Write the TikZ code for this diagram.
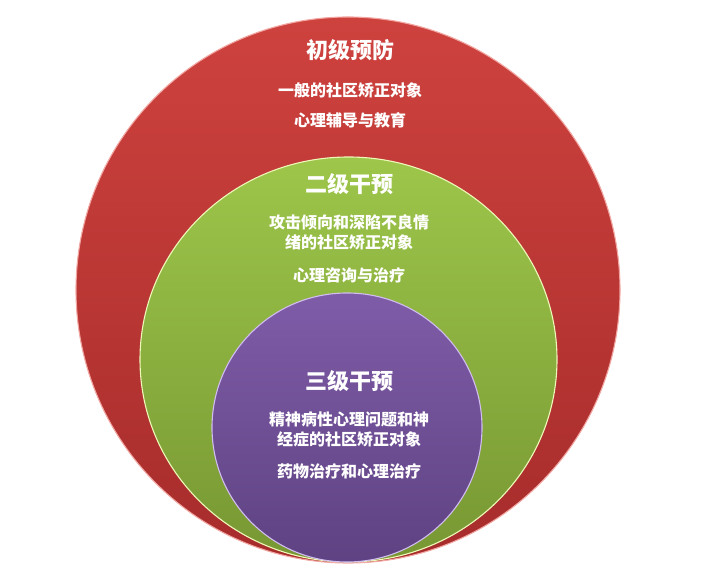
\documentclass[tikz,border=0pt]{standalone}
\usepackage{fontspec}
\newfontfamily\cjk{Noto Sans CJK SC}
\usetikzlibrary{positioning}
\definecolor{redtop}{HTML}{CE423E}
\definecolor{redbot}{HTML}{A62C2B}
\definecolor{redrim}{HTML}{F2A6A2}
\definecolor{greentop}{HTML}{9DC64A}
\definecolor{greenbot}{HTML}{779733}
\definecolor{greenrim}{HTML}{EEF8B8}
\definecolor{purpletop}{HTML}{7F5CA8}
\definecolor{purplebot}{HTML}{5E4282}
\definecolor{purplerim}{HTML}{D2BDF0}

\tikzset{
  ring/.style={line width=1.1pt},
  title/.style={font=\cjk\bfseries\fontsize{22}{22}\selectfont, text=white,
    inner sep=0pt, text height=19pt, text depth=3pt},
  item/.style={font=\cjk\bfseries\fontsize{16}{20}\selectfont, text=white,
    inner sep=0pt, text height=13.5pt, text depth=2.5pt},
  pair/.style={font=\cjk\bfseries\fontsize{16}{20}\selectfont, text=white,
    inner sep=0pt, align=center},
}

\begin{document}
\begin{tikzpicture}[x=1pt,y=1pt]
\useasboundingbox (0,0) rectangle (701,580);

% the three levels
\path[ring, draw=redrim, top color=redtop, bottom color=redbot]
  (348,290) ellipse [x radius=272, y radius=273];
\path[ring, draw=greenrim, top color=greentop, bottom color=greenbot]
  (348.5,220.5) ellipse [x radius=208.5, y radius=202.5];
\path[ring, draw=purplerim, top color=purpletop, bottom color=purplebot]
  (347,152.5) ellipse [x radius=135, y radius=134.5];

% first level
\node[title] (t1) at (350,529.3) {初级预防};
\node[item, below=21pt of t1] (t1a) {一般的社区矫正对象};
\node[item, below=13.3pt of t1a] (t1b) {心理辅导与教育};

% second level
\node[title] (t2) at (349,395) {二级干预};
\node[pair, below=18pt of t2] (t2a) {攻击倾向和深陷不良情\\绪的社区矫正对象};
\node[item, below=17.5pt of t2a] (t2b) {心理咨询与治疗};

% third level
\node[title] (t3) at (349,198.3) {三级干预};
\node[pair, below=18.2pt of t3] (t3a) {精神病性心理问题和神\\经症的社区矫正对象};
\node[item, below=17.2pt of t3a] (t3b) {药物治疗和心理治疗};
\end{tikzpicture}
\end{document}
